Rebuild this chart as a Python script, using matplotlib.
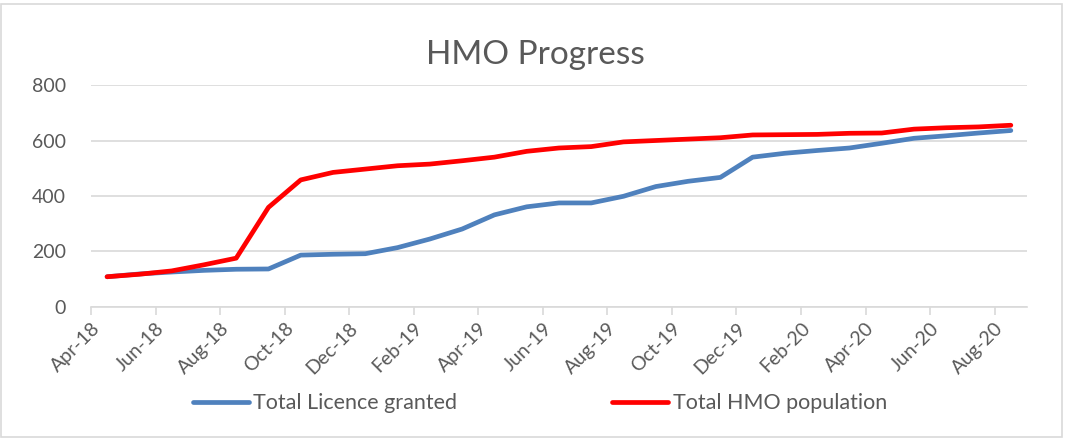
import matplotlib.pyplot as plt
from matplotlib.patches import Rectangle

months = ['Apr-18', 'May-18', 'Jun-18', 'Jul-18', 'Aug-18', 'Sep-18', 'Oct-18', 'Nov-18',
          'Dec-18', 'Jan-19', 'Feb-19', 'Mar-19', 'Apr-19', 'May-19', 'Jun-19', 'Jul-19',
          'Aug-19', 'Sep-19', 'Oct-19', 'Nov-19', 'Dec-19', 'Jan-20', 'Feb-20', 'Mar-20',
          'Apr-20', 'May-20', 'Jun-20', 'Jul-20', 'Aug-20']
licence = [109, 119, 126, 132, 136, 137, 187, 190, 192, 214, 245, 281, 332, 361, 375,
           375, 399, 434, 453, 467, 540, 554, 564, 573, 590, 608, 617, 627, 636]
population = [109, 118, 130, 152, 176, 359, 458, 485, 497, 509, 515, 527, 540, 561, 573,
              578, 595, 600, 605, 610, 620, 621, 622, 626, 627, 641, 646, 649, 655]

plt.rcParams['font.family'] = ['Lato', 'DejaVu Sans']
grey = '#595959'

fig = plt.figure(figsize=(10.65, 4.4), dpi=100)
ax = fig.add_axes([0.0854, 0.3023, 0.8789, 0.5045])

x = list(range(len(months)))
ax.plot(x, licence, color='#4f81bd', lw=3.4, solid_capstyle='round', label='Total Licence granted')
ax.plot(x, population, color='#ff0000', lw=3.4, solid_capstyle='round', label='Total HMO population')

ax.set_xlim(-0.5, len(months) - 0.5)
ax.set_ylim(0, 800)
ax.set_yticks([0, 200, 400, 600, 800])
ax.yaxis.grid(True, color='#d9d9d9', lw=1.2)
ax.set_axisbelow(True)

tick_pos = [i - 0.5 for i in range(0, len(months), 2)]
ax.set_xticks(tick_pos)
ax.set_xticklabels(months[::2], rotation=45, ha='right', rotation_mode='anchor')

for s in ['top', 'right', 'left']:
    ax.spines[s].set_visible(False)
ax.spines['bottom'].set_color('#d9d9d9')
ax.spines['bottom'].set_linewidth(1.2)
ax.tick_params(axis='y', length=0, labelsize=14, colors=grey, pad=18)
ax.tick_params(axis='x', length=6, color='#d9d9d9', width=1.2, labelsize=14, colors=grey, pad=3)

fig.text(0.503, 0.875, 'HMO Progress', ha='center', va='center', fontsize=24, color=grey)

fig.legend(loc='center', bbox_to_anchor=(0.507, 0.084), ncol=2, frameon=False,
           fontsize=15.5, labelcolor=grey, handlelength=2.6, handletextpad=0.2,
           columnspacing=7.2)

fig.patches.append(Rectangle((0.001, 0.006), 0.996, 0.986, transform=fig.transFigure,
                             fill=False, edgecolor='#d9d9d9', lw=1.2))

fig.savefig('out.png', dpi=100)
